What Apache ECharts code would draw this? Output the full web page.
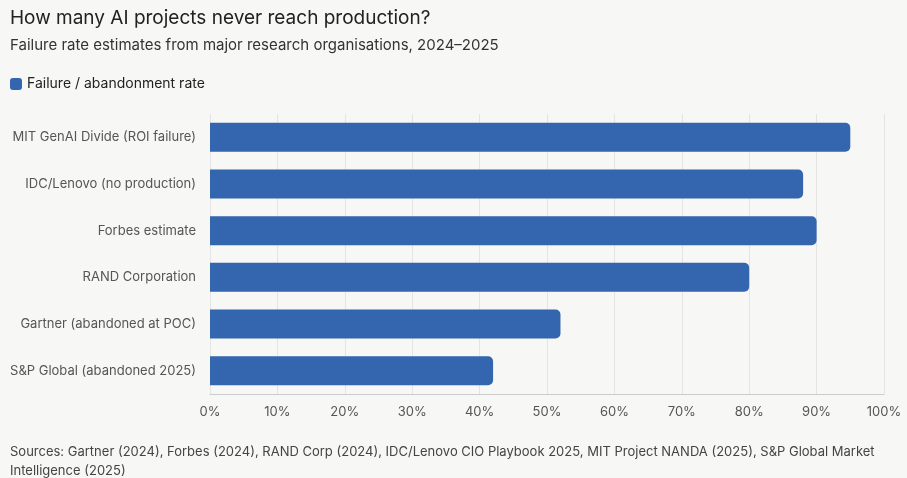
<!DOCTYPE html>
<html><head><meta charset="utf-8">
<script src="https://cdn.jsdelivr.net/npm/echarts@6/dist/echarts.min.js"></script>
<style>html,body{margin:0;padding:0;background:#f7f7f5}#c{width:907px;height:478px}</style>
</head><body><div id="c"></div>
<script>
const categories = ["MIT GenAI Divide (ROI failure)","IDC/Lenovo (no production)","Forbes estimate","RAND Corporation","Gartner (abandoned at POC)","S&P Global (abandoned 2025)"];
const failureRates = [95, 88, 90, 80, 52, 42];
const tickValues = [0,10,20,30,40,50,60,70,80,90,100];
const chart = echarts.init(document.getElementById('c'));
const ff = "Inter, 'Noto Sans', sans-serif";
chart.setOption({
  backgroundColor: '#f7f7f5',
  textStyle: {fontFamily: ff},
  title: [
    {text: 'How many AI projects never reach production?', left: 5, top: 4, textStyle: {fontSize: 19, fontWeight: 'normal', color: '#222', fontFamily: ff}},
    {text: 'Failure rate estimates from major research organisations, 2024\u20132025', left: 5, top: 33, textStyle: {fontSize: 15, fontWeight: 'normal', color: '#333', fontFamily: ff}},
    {text: 'Sources: Gartner (2024), Forbes (2024), RAND Corp (2024), IDC/Lenovo CIO Playbook 2025, MIT Project NANDA (2025), S&P Global Market\nIntelligence (2025)', left: 5, top: 438, textStyle: {fontSize: 13, fontWeight: 'normal', color: '#444', lineHeight: 19, fontFamily: ff}}
  ],
  legend: {left: 5, top: 72, itemWidth: 12, itemHeight: 12, icon: 'roundRect', itemGap: 6, textStyle: {fontSize: 14, color: '#222', fontFamily: ff}},
  grid: {left: 210, right: 23, top: 114, bottom: 84},
  xAxis: {type: 'value', min: 0, max: 100, interval: 10,
    axisLabel: {formatter: '{value}%', color: '#555', fontSize: 13, margin: 12},
    splitLine: {show: true, lineStyle: {color: '#e4e4e4'}},
    axisLine: {show: true, lineStyle: {color: '#ccc'}}, axisTick: {show: false}},
  yAxis: {type: 'category', data: categories, inverse: true,
    axisLabel: {color: '#555', fontSize: 13, margin: 14},
    axisLine: {show: false}, axisTick: {show: false}},
  series: [{name: 'Failure / abandonment rate', type: 'bar', data: failureRates, barWidth: 29,
    itemStyle: {color: '#3366ae', borderRadius: [0, 5, 5, 0]}}]
});
</script></body></html>
